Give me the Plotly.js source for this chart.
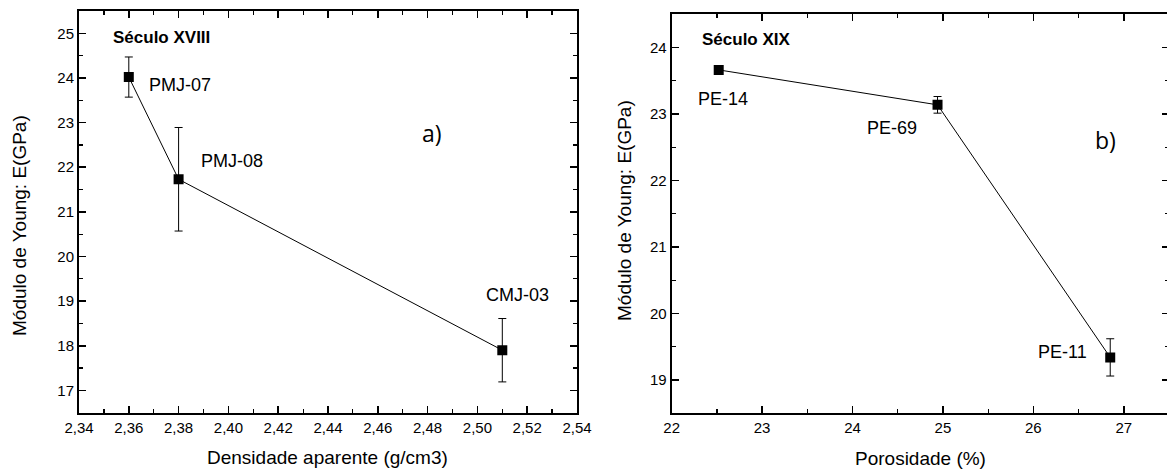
<!DOCTYPE html>
<html>
<head>
<meta charset="utf-8">
<script src="https://cdn.plot.ly/plotly-3.0.1.min.js"></script>
<style>
html,body{margin:0;padding:0;overflow:hidden;background:#fff;}
#chart{width:1172px;height:470px;}
</style>
</head>
<body>
<div id="chart"></div>
<script>
// Panel a) — Século XVIII
const densidade = [2.36, 2.38, 2.51];
const moduloA = [24.02, 21.73, 17.90];
const erroA = [0.45, 1.16, 0.71];
const amostrasA = ["PMJ-07", "PMJ-08", "CMJ-03"];
const labelPosA_x = [2.3806, 2.4016, 2.5163];
const labelPosA_y = [23.84, 22.14, 19.14];

// Panel b) — Século XIX
const porosidade = [22.52, 24.94, 26.85];
const moduloB = [23.66, 23.135, 19.34];
const erroB = [0.0, 0.125, 0.28];
const amostrasB = ["PE-14", "PE-69", "PE-11"];
const labelPosB_x = [22.57, 24.44, 26.32];
const labelPosB_y = [23.22, 22.79, 19.42];

const W = 1172, H = 470;
const black = '#000';
const FF = 'Liberation Sans, Arial, sans-serif';
const tickFont = {family: FF, size: 15, color: black};

function traceFor(x, y, err, xa, ya) {
  return {
    type: 'scatter', mode: 'lines+markers', x: x, y: y,
    xaxis: xa, yaxis: ya,
    line: {color: black, width: 1},
    marker: {symbol: 'square', size: 10, color: black},
    error_y: {type: 'data', array: err, visible: true, color: black, thickness: 1, width: 4},
    showlegend: false, hoverinfo: 'x+y'
  };
}

function axisBase(extra) {
  return Object.assign({
    showline: true, linecolor: black, linewidth: 2, mirror: 'ticks',
    ticks: 'inside', ticklen: 7, tickwidth: 1.5, tickcolor: black,
    showgrid: false, zeroline: false, tickfont: tickFont,
    automargin: false
  }, extra);
}

const data = [
  traceFor(densidade, moduloA, erroA, 'x', 'y'),
  traceFor(porosidade, moduloB, erroB, 'x2', 'y2')
];

function ann(o) {
  return Object.assign({showarrow: false, xanchor: 'center', yanchor: 'middle'}, o);
}

const labelFont = {family: FF, size: 18, color: black};
const annotations = [];
amostrasA.forEach((t, i) => annotations.push(ann({
  x: labelPosA_x[i], y: labelPosA_y[i], xref: 'x', yref: 'y', text: t, font: labelFont
})));
amostrasB.forEach((t, i) => annotations.push(ann({
  x: labelPosB_x[i], y: labelPosB_y[i], xref: 'x2', yref: 'y2', text: t, font: labelFont
})));
annotations.push(ann({x: 2.3733, y: 24.9, xref: 'x', yref: 'y', text: '<b>Século XVIII</b>',
  font: {family: FF, size: 17, color: black}}));
annotations.push(ann({x: 22.83, y: 24.11, xref: 'x2', yref: 'y2', text: '<b>Século XIX</b>',
  font: {family: FF, size: 17, color: black}}));
annotations.push(ann({x: 2.4817, y: 22.76, xref: 'x', yref: 'y', text: 'a)',
  font: {family: 'Open Sans, sans-serif', size: 23, color: black}}));
annotations.push(ann({x: 26.8, y: 22.6, xref: 'x2', yref: 'y2', text: 'b)',
  font: {family: 'Open Sans, sans-serif', size: 23, color: black}}));

// axis titles (placed as in the reference)
const titleFont = {family: FF, size: 19, color: black};
annotations.push(ann({x: 327 / W, y: 1 - 457 / H, xref: 'paper', yref: 'paper', text: 'Densidade aparente (g/cm3)',
  font: titleFont}));
annotations.push(ann({x: 920 / W, y: 1 - 458 / H, xref: 'paper', yref: 'paper', text: 'Porosidade (%)',
  font: titleFont}));
annotations.push(ann({x: 20 / W, y: 1 - 226 / H, xref: 'paper', yref: 'paper', text: 'Módulo de Young: E(GPa)',
  textangle: -90, font: titleFont}));
annotations.push(ann({x: 625 / W, y: 1 - 211 / H, xref: 'paper', yref: 'paper', text: 'Módulo de Young: E(GPa)',
  textangle: -90, font: titleFont}));

const layout = {
  width: W, height: H,
  margin: {l: 0, r: 0, t: 0, b: 0},
  paper_bgcolor: '#fff', plot_bgcolor: '#fff',
  separators: ', ',
  showlegend: false,
  xaxis: axisBase({
    domain: [79 / W, 577 / W], anchor: 'y',
    range: [2.34, 2.54], dtick: 0.02, tick0: 2.34, tickformat: '.2f',
    minor: {ticks: 'inside', ticklen: 4, dtick: 0.01, tickcolor: black, tickwidth: 1.2}
  }),
  yaxis: axisBase({
    domain: [(H - 412.7) / H, (H - 11) / H], anchor: 'x',
    range: [16.5, 25.5], dtick: 1, tick0: 17,
    minor: {ticks: 'inside', ticklen: 4, dtick: 0.5, tickcolor: black, tickwidth: 1.2}
  }),
  xaxis2: axisBase({
    domain: [671.7 / W, 1169 / W], anchor: 'y2',
    range: [22, 27.5], dtick: 1, tick0: 22,
    minor: {ticks: 'inside', ticklen: 4, dtick: 0.5, tickcolor: black, tickwidth: 1.2}
  }),
  yaxis2: axisBase({
    domain: [(H - 413.3) / H, (H - 14) / H], anchor: 'x2',
    range: [18.5, 24.5], dtick: 1, tick0: 19,
    minor: {ticks: 'inside', ticklen: 4, dtick: 0.5, tickcolor: black, tickwidth: 1.2}
  }),
  annotations: annotations
};

Plotly.newPlot('chart', data, layout, {displayModeBar: false, staticPlot: true});
</script>
</body>
</html>
